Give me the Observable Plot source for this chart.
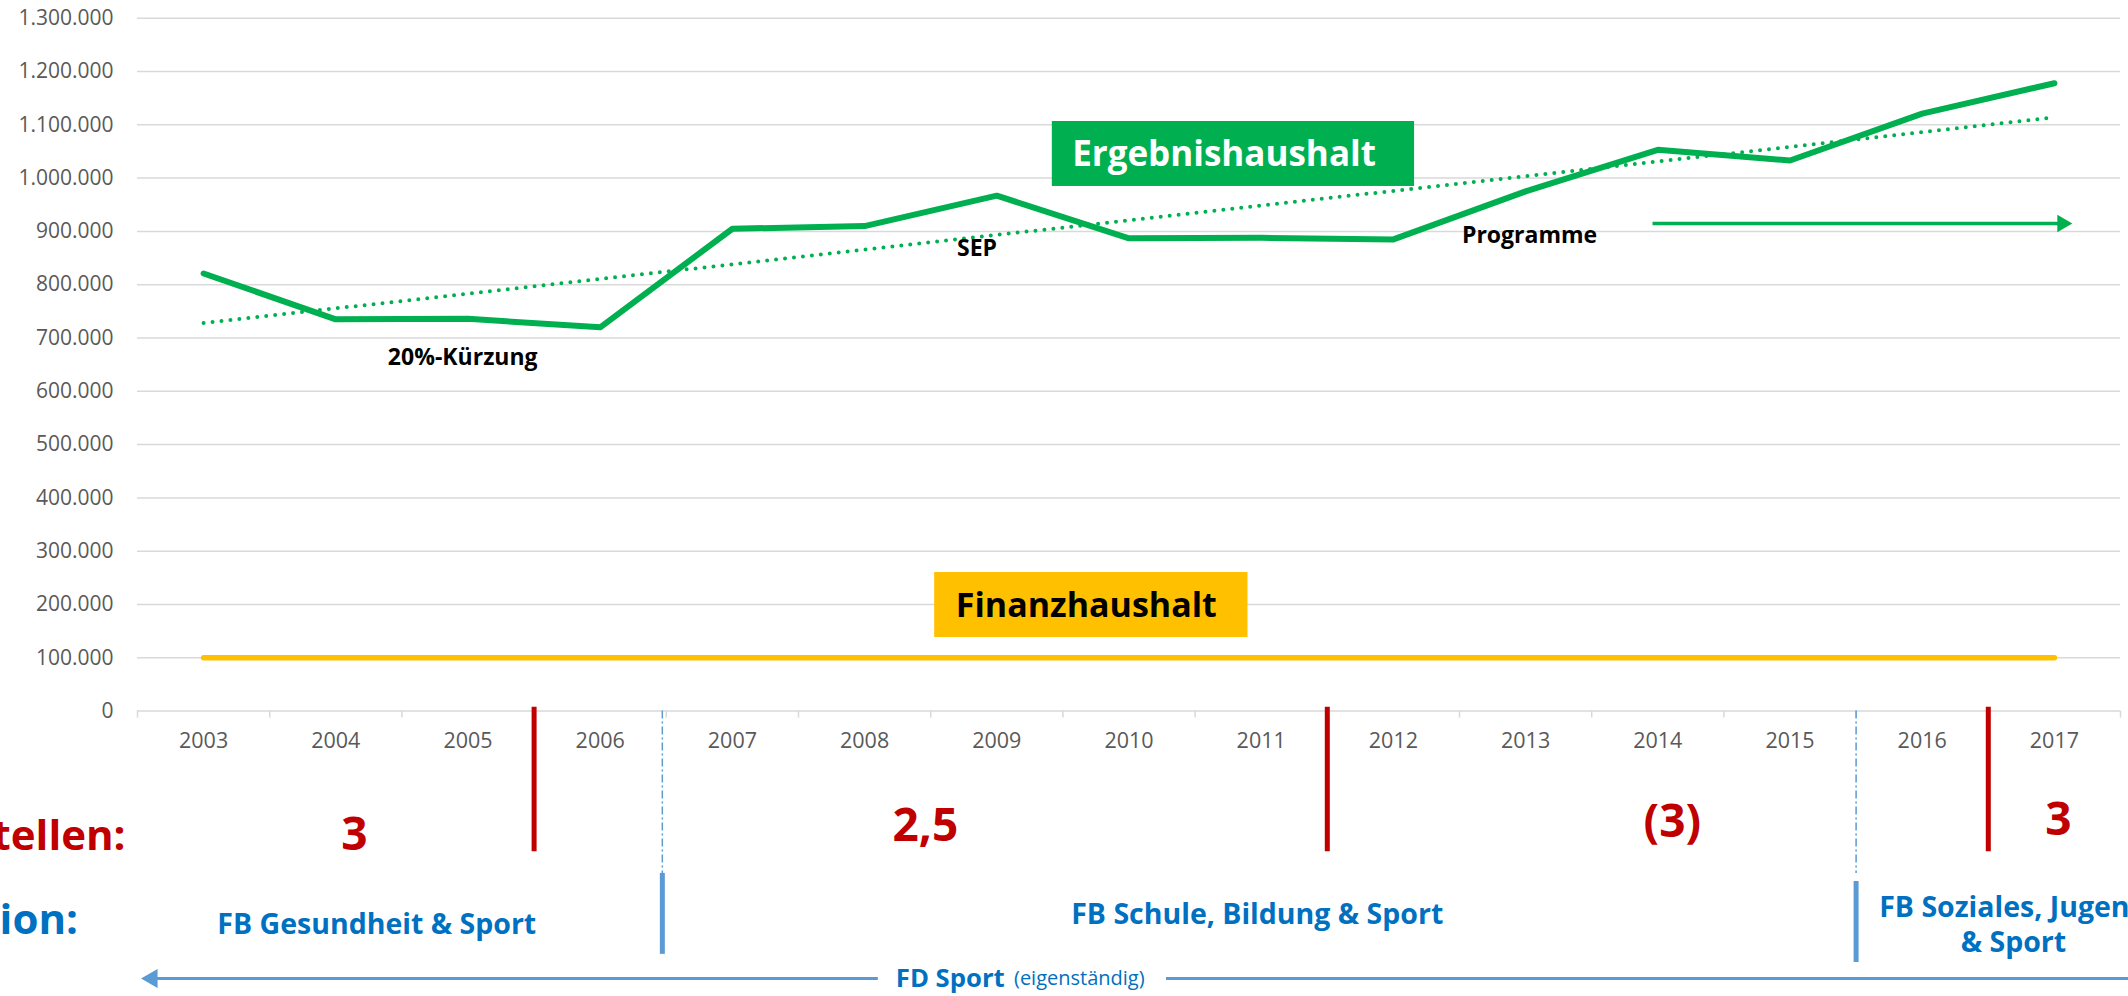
<!DOCTYPE html>
<html>
<head>
<meta charset="utf-8">
<script src="https://cdn.jsdelivr.net/npm/d3@7"></script>
<script src="https://cdn.jsdelivr.net/npm/@observablehq/plot@0.6"></script>
<style>
  html, body { margin: 0; padding: 0; background: #fff; }
  #chart svg { display: block; }
</style>
</head>
<body>
<div id="chart"></div>
<script>
// ---- data ----
const years = [2003, 2004, 2005, 2006, 2007, 2008, 2009, 2010, 2011, 2012, 2013, 2014, 2015, 2016, 2017];
const ergebnishaushalt = [821000, 735000, 736000, 720000, 905000, 910000, 967000, 887000, 888000, 885000, 975000, 1053000, 1033000, 1121000, 1178000];
const finanzhaushalt = [100000, 100000, 100000, 100000, 100000, 100000, 100000, 100000, 100000, 100000, 100000, 100000, 100000, 100000, 100000];
const yTicks = [0, 100000, 200000, 300000, 400000, 500000, 600000, 700000, 800000, 900000, 1000000, 1100000, 1200000, 1300000];
const stellenLabels = ["3", "2,5", "(3)", "3"];
const stellenBreaks = [2005.5, 2011.5, 2016.5];
const orgLabels = ["FB Gesundheit & Sport", "FB Schule, Bildung & Sport", "FB Soziales, Jugend\n& Sport"];
const orgBreaks = [2006.47, 2015.5];

const table = years.map((year, i) => ({year, erg: ergebnishaushalt[i], fin: finanzhaushalt[i]}));
const bounds = d3.range(years.length + 1).map(i => years[0] - 0.5 + i);

const GREEN = "#00B050", YELLOW = "#FFC000", RED = "#C00000", BLUE = "#0070C0", LBLUE = "#5B9BD5";
const de = d3.formatLocale({decimal: ",", thousands: ".", grouping: [3], currency: ["", "€"]});
const fmt = de.format(",");
const BOLD = {fontFamily: "Open Sans", fontWeight: 700};

const chart = Plot.plot({
  width: 2128,
  height: 996,
  marginLeft: 137,
  marginRight: 8,
  marginTop: 17.7,
  marginBottom: 285.4,
  x: {domain: [2002.5, 2017.5]},
  y: {domain: [0, 1300000]},
  style: {fontFamily: "Open Sans", background: "#fff"},
  marks: [
    Plot.gridY(yTicks, {stroke: "#d9d9d9", strokeOpacity: 1, strokeWidth: 1.5}),
    Plot.axisY({ticks: yTicks, tickFormat: fmt, tickSize: 0, tickPadding: 24, fontSize: 21, color: "#595959"}),
    Plot.axisX({ticks: years, tickFormat: d => String(d), tickSize: 0, tickPadding: 22, fontSize: 21.5, color: "#595959"}),
    Plot.axisX({ticks: bounds, tickFormat: () => "", tickSize: 7, color: "#d9d9d9", strokeWidth: 1.5}),

    // Finanzhaushalt
    Plot.lineY(table, {x: "year", y: "fin", stroke: YELLOW, strokeWidth: 5.5, strokeLinecap: "round"}),
    // trend
    Plot.linearRegressionY(table, {x: "year", y: "erg", ci: 0, stroke: GREEN, strokeWidth: 4, strokeDasharray: "0 9", strokeLinecap: "round"}),
    // Ergebnishaushalt
    Plot.lineY(table, {x: "year", y: "erg", stroke: GREEN, strokeWidth: 6, strokeLinejoin: "round", strokeLinecap: "round"}),

    // label boxes
    Plot.rect([{x1: 2009.42, x2: 2012.16, y1: 984300, y2: 1106200}], {x1: "x1", x2: "x2", y1: "y1", y2: "y2", fill: GREEN}),
    Plot.text([{x: 2009.57, y: 1044300}], {x: "x", y: "y", text: () => "Ergebnishaushalt", textAnchor: "start", fill: "#fff", fontSize: 35, ...BOLD}),
    Plot.rect([{x1: 2008.53, x2: 2010.90, y1: 138100, y2: 260000}], {x1: "x1", x2: "x2", y1: "y1", y2: "y2", fill: YELLOW}),
    Plot.text([{x: 2008.69, y: 196200}], {x: "x", y: "y", text: () => "Finanzhaushalt", textAnchor: "start", fill: "#000", fontSize: 34, ...BOLD}),

    // annotations in plot
    Plot.text([{x: 2004.96, y: 662500, t: "20%-Kürzung"}, {x: 2008.85, y: 867900, t: "SEP"}, {x: 2013.03, y: 891400, t: "Programme"}],
      {x: "x", y: "y", text: "t", fill: "#000", fontSize: 23, ...BOLD}),
    Plot.link([{x1: 2013.96, x2: 2017.06, y: 914800}], {x1: "x1", x2: "x2", y1: "y", y2: "y", stroke: GREEN, strokeWidth: 3.5}),
    Plot.dot([{x: 2017.06, y: 914800}], {x: "x", y: "y", symbol: "triangle", r: 6.43, rotate: 90, fill: GREEN, stroke: null}),

    // below-axis: Stellen row
    Plot.ruleX(stellenBreaks, {y1: 7000, y2: -264000, stroke: RED, strokeWidth: 5}),
    Plot.text([{x: 2002.41, y: -235200}], {x: "x", y: "y", text: () => "Stellen:", textAnchor: "end", fill: RED, fontSize: 42, ...BOLD}),
    Plot.text(stellenLabels.map((t, i) => ({t, x: [2004.14, 2008.46, 2014.11, 2017.03][i], y: [-233400, -215500, -209000, -205200][i]})),
      {x: "x", y: "y", text: "t", fill: RED, fontSize: 46, ...BOLD}),

    // Organisation row
    Plot.ruleX(orgBreaks, {y1: 0, y2: -304500, stroke: LBLUE, strokeWidth: 1.5, strokeDasharray: "8 3 2 3"}),
    Plot.ruleX([{x: orgBreaks[0], y1: -304500, y2: -456400}, {x: orgBreaks[1], y1: -319700, y2: -471600}], {x: "x", y1: "y1", y2: "y2", stroke: LBLUE, strokeWidth: 5}),
    Plot.text([{x: 2002.05, y: -392800}], {x: "x", y: "y", text: () => "Organisation:", textAnchor: "end", fill: BLUE, fontSize: 42, ...BOLD}),
    Plot.text(orgLabels.map((t, i) => ({t, x: [2004.31, 2010.97, 2016.69][i], y: [-396600, -377800, -397500][i]})),
      {x: "x", y: "y", text: "t", fill: BLUE, fontSize: 28.5, lineHeight: 1.23, ...BOLD}),

    // FD Sport arrow
    Plot.link([{x1: 2008.10, x2: 2002.61, y: -501600}, {x1: 2010.28, x2: 2017.56, y: -501600}], {x1: "x1", x2: "x2", y1: "y", y2: "y", stroke: LBLUE, strokeWidth: 3}),
    Plot.dot([{x: 2002.61, y: -501600}], {x: "x", y: "y", symbol: "triangle", r: 7.07, rotate: -90, fill: LBLUE, stroke: null}),
    Plot.text([{x: 2009.06, y: -501600}], {x: "x", y: "y", text: () => "FD Sport", textAnchor: "end", fill: BLUE, fontSize: 25.7, ...BOLD}),
    Plot.text([{x: 2009.13, y: -501600}], {x: "x", y: "y", text: () => "(eigenständig)", textAnchor: "start", fill: BLUE, fontSize: 20, fontFamily: "Open Sans"})
  ]
});
document.getElementById("chart").appendChild(chart);
</script>
</body>
</html>
